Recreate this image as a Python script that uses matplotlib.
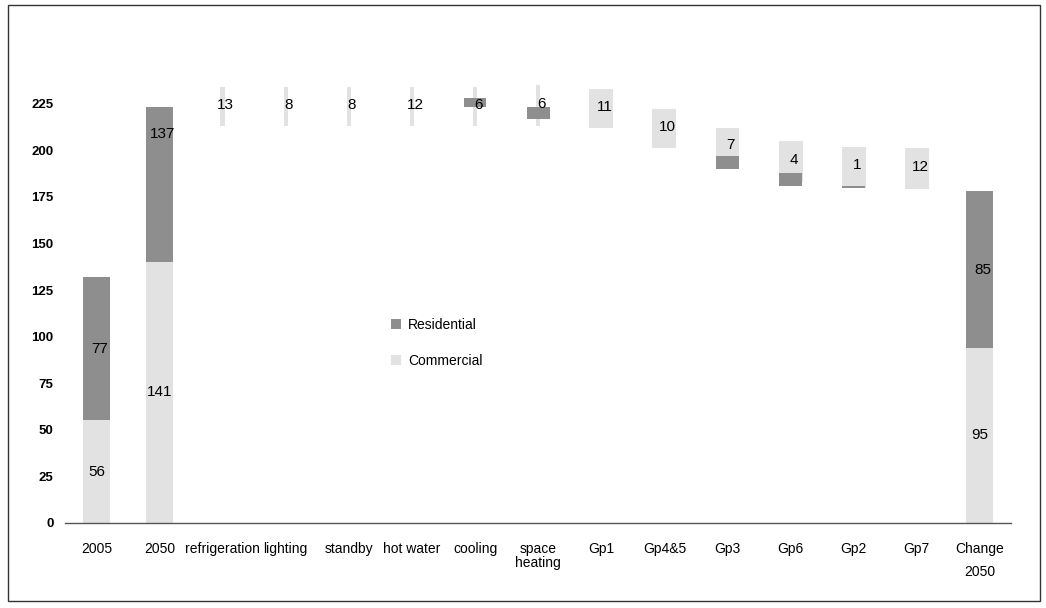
import numpy as np
import matplotlib
matplotlib.use("Agg")
import matplotlib.pyplot as plt
from matplotlib.patches import Patch, Rectangle

plt.rcParams['font.family'] = ['Liberation Sans', 'DejaVu Sans']

categories = ['2005', '2050', 'refrigeration', 'lighting', 'standby', 'hot water',
              'cooling', 'space\nheating', 'Gp1', 'Gp4&5', 'Gp3', 'Gp6', 'Gp2', 'Gp7',
              'Change\n2050']

# Commercial segment (bottom, top) as drawn
com_low = [0, 0, 213, 213, 213, 213, 213, 213, 212, 201, 192, 183, 180, 179, 0]
com_high = [55, 140, 234, 234, 234, 234, 234, 235, 233, 222, 212, 205, 202, 201, 94]
# Residential segment (bottom, top) as drawn; NaN where none visible
res_low = [55, 140, np.nan, np.nan, np.nan, np.nan, 223, 217, np.nan, np.nan, 190, 181, 180, np.nan, 94]
res_high = [132, 223, np.nan, np.nan, np.nan, np.nan, 228, 223, np.nan, np.nan, 197, 188, 181, np.nan, 178]

# Labels
com_labels = ['56', '141', '95']
res_labels = ['77', '137', '85']
step_labels = ['13', '8', '8', '12', '6', '6', '11', '10', '7', '4', '1', '12']

yticks = [0, 25, 50, 75, 100, 125, 150, 175, 200, 225]

C_RES = '#8e8e8e'
C_COM = '#e2e2e2'

fig = plt.figure(figsize=(10.46, 6.08), dpi=100)
ax = fig.add_axes([0.062, 0.140, 0.905, 0.766])

x = np.arange(len(categories))
total_idx = [0, 1, len(categories) - 1]
step_idx = list(range(2, len(categories) - 1))

widths = []
for i in x:
    if i in total_idx:
        widths.append(0.43)
    elif i < 8:
        widths.append(0.07)
    else:
        widths.append(0.38)

com_low_a = np.array(com_low, float)
com_high_a = np.array(com_high, float)
res_low_a = np.array(res_low, float)
res_high_a = np.array(res_high, float)

ax.bar(x, com_high_a - com_low_a, bottom=com_low_a, width=widths, color=C_COM,
       edgecolor='none', zorder=2)
res_w = [0.43 if i in total_idx else 0.36 for i in x]
ax.bar(x, res_high_a - res_low_a, bottom=res_low_a, width=res_w, color=C_RES,
       edgecolor='none', zorder=3)

for k, i in enumerate(total_idx):
    ax.text(i, (com_low_a[i] + com_high_a[i]) / 2, com_labels[k], ha='center',
            va='center', fontsize=11, zorder=4)
res_label_y = [(res_low_a[0] + res_high_a[0]) / 2, res_high_a[1] - 14,
               (res_low_a[-1] + res_high_a[-1]) / 2]
for k, i in enumerate(total_idx):
    ax.text(i + 0.05, res_label_y[k], res_labels[k], ha='center', va='center',
            fontsize=11, zorder=4)
for k, i in enumerate(step_idx):
    ax.text(i + 0.05, (com_low_a[i] + com_high_a[i]) / 2 + 1, step_labels[k],
            ha='center', va='center', fontsize=11, zorder=4)

ax.set_xlim(-0.5, len(categories) - 0.5)
ax.set_ylim(0, 250)
ax.set_yticks(yticks)
ax.set_yticklabels([str(t) for t in yticks], fontweight='bold', fontsize=9.5)
ax.set_xticks(x)
ax.set_xticklabels(categories, fontsize=10, linespacing=0.95, va='top')
ax.get_xticklabels()[-1].set_linespacing(1.75)
ax.tick_params(axis='both', length=0)
ax.tick_params(axis='x', pad=14)
ax.tick_params(axis='y', pad=8)
for s in ['top', 'right', 'left']:
    ax.spines[s].set_visible(False)
ax.spines['bottom'].set_color('#555555')
ax.spines['bottom'].set_linewidth(1.0)

handles = [Patch(facecolor=C_RES, edgecolor='none'),
           Patch(facecolor=C_COM, edgecolor='none')]
fig.legend(handles, ['Residential', 'Commercial'], loc='upper left',
           bbox_to_anchor=(0.362, 0.498), frameon=False, fontsize=10,
           handlelength=0.7, handleheight=0.7, handletextpad=0.5,
           labelspacing=1.6)

fig.patches.append(Rectangle((0.008, 0.012), 0.986, 0.98, transform=fig.transFigure,
                             fill=False, edgecolor='#333333', linewidth=1.0))

fig.savefig('out.png', dpi=100)
